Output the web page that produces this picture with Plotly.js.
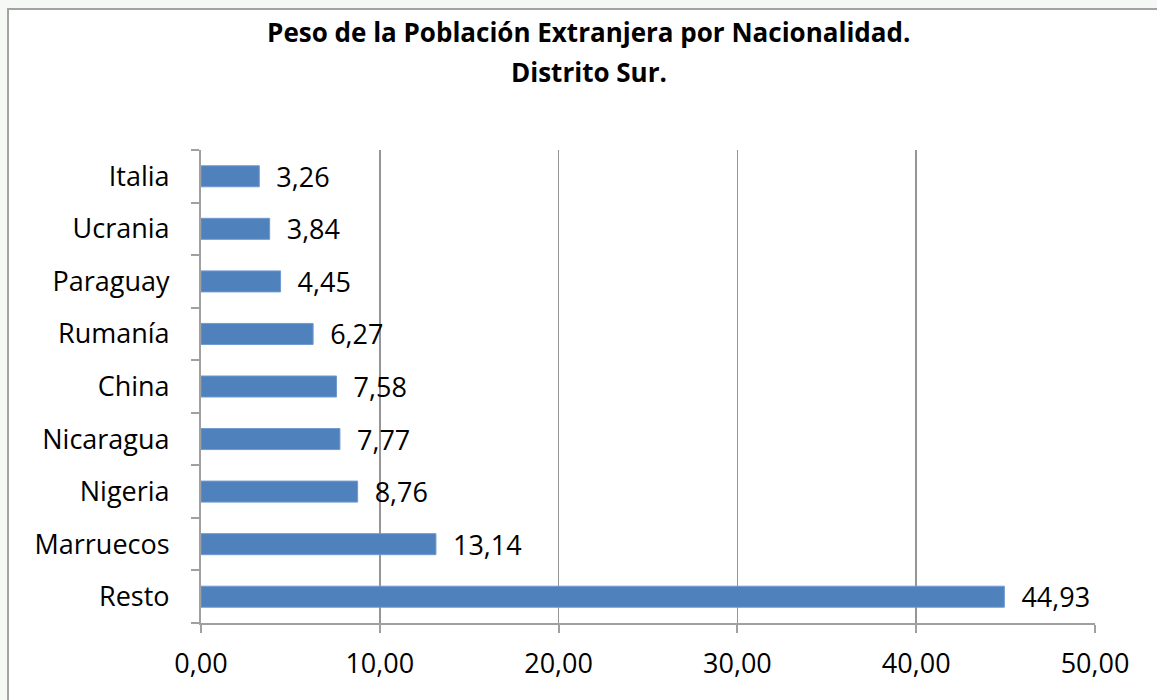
<!DOCTYPE html>
<html>
<head>
<meta charset="utf-8">
<script src="https://cdn.plot.ly/plotly-3.0.1.min.js"></script>
<style>
  html, body { margin:0; padding:0; width:1157px; height:700px; overflow:hidden; background:#f5f8f5; }
  #chart { position:absolute; left:7px; top:8px; width:1148px; height:690px; border-left:2px solid #a3a3a3; border-top:2px solid #a3a3a3; background:#fff; }
</style>
</head>
<body>
<div id="chart"></div>
<script>
const categories = ['Resto','Marruecos','Nigeria','Nicaragua','China','Rumanía','Paraguay','Ucrania','Italia'];
const values = [44.93, 13.14, 8.76, 7.77, 7.58, 6.27, 4.45, 3.84, 3.26];
const xTicks = [0, 10, 20, 30, 40, 50];
const titleLine1 = 'Peso de la Población Extranjera por Nacionalidad.';
const titleLine2 = 'Distrito Sur.';

const FONT = '"Open Sans", "Liberation Sans", sans-serif';

const trace = {
  type: 'bar',
  orientation: 'h',
  x: values,
  y: categories,
  marker: { color: '#4f81bd', line: { color: '#6f9ad0', width: 1 } },
  texttemplate: '\u00a0\u00a0%{x:.2f}',
  textposition: 'outside',
  constraintext: 'none',
  cliponaxis: false,
  textfont: { family: FONT, size: 27, color: '#000' },
  hoverinfo: 'skip'
};

const layout = {
  width: 1148, height: 690,
  margin: { l: 192, r: 62, t: 140, b: 77 },
  paper_bgcolor: '#ffffff',
  plot_bgcolor: '#ffffff',
  separators: ',.',
  showlegend: false,
  bargap: 0.6,
  font: { family: FONT, color: '#000' },
  title: {
    text: titleLine1,
    font: { family: FONT, size: 26, color: '#000', weight: 'bold' },
    xref: 'container', x: 0.505, xanchor: 'center',
    yref: 'container', y: 1 - 14/690, yanchor: 'top'
  },
  annotations: [{
    text: titleLine2, showarrow: false,
    xref: 'paper', yref: 'paper',
    x: (580 - 192) / 894, xanchor: 'center',
    y: (690 - 77 - 42) / 473, yanchor: 'top',
    font: { family: FONT, size: 26, color: '#000', weight: 'bold' }
  }],
  xaxis: {
    range: [0, 50],
    tickvals: xTicks,
    tickformat: '.2f',
    showgrid: true, gridcolor: '#969696', gridwidth: 1.5,
    zeroline: false,
    showline: true, linecolor: '#a0a0a0', linewidth: 2,
    ticks: 'outside', ticklen: 8, tickcolor: '#a0a0a0', tickwidth: 2,
    tickfont: { family: FONT, size: 27, color: '#000' },
    ticklabelstandoff: 8,
    fixedrange: true
  },
  yaxis: {
    type: 'category',
    categoryorder: 'array', categoryarray: categories,
    showgrid: false, zeroline: false,
    showline: true, linecolor: '#a0a0a0', linewidth: 2,
    ticks: 'outside', ticklen: 8, tickcolor: '#a0a0a0', tickwidth: 2,
    tickson: 'boundaries',
    tickfont: { family: FONT, size: 27, color: '#000' },
    ticklabelstandoff: 24,
    fixedrange: true
  }
};

Plotly.newPlot('chart', [trace], layout, { displayModeBar: false, staticPlot: true });
</script>
</body>
</html>
